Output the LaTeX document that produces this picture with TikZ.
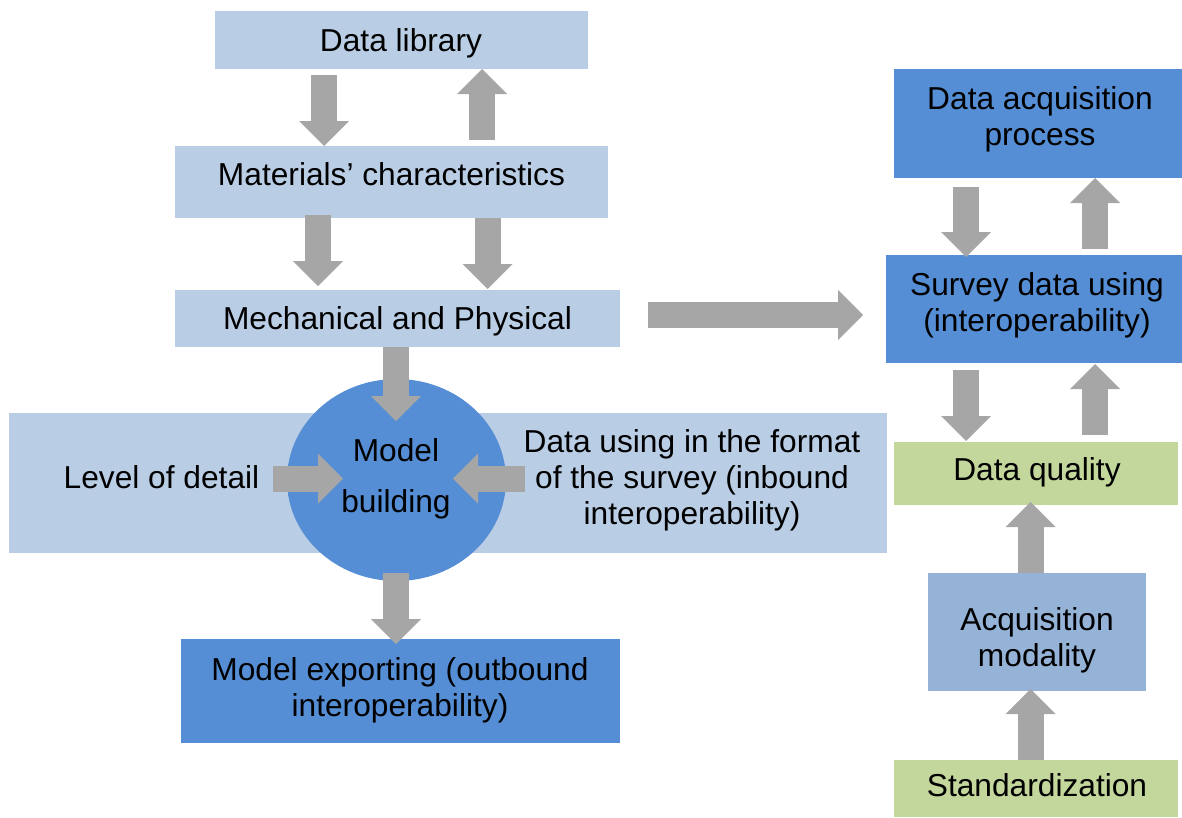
\documentclass[tikz,border=0pt]{standalone}
\usepackage{fontspec}
\setmainfont{Liberation Sans}
\usetikzlibrary{arrows.meta,calc,shapes.geometric}
\definecolor{paleblue}{HTML}{B9CDE5}
\definecolor{strongblue}{HTML}{558ED5}
\definecolor{midblue}{HTML}{95B3D7}
\definecolor{palegreen}{HTML}{C3D69B}
\definecolor{arrowgray}{HTML}{A6A6A6}
\begin{document}
\begin{tikzpicture}[x=1pt,y=-1pt,
  box/.style={rectangle, draw=none, inner sep=0pt, outer sep=0pt},
  txt/.style={inner sep=0pt, outer sep=0pt, align=center, font=\fontsize{31.7}{36}\selectfont},
  barrow/.style={draw=arrowgray, line width=26pt,
    -{Triangle[width=50pt,length=25pt,line width=0pt]}}]
\useasboundingbox (0,0) rectangle (1182,817);

% background band and the central disc
\node[box, fill=paleblue, minimum width=878pt, minimum height=140pt] (band) at (448,483) {};
\node[ellipse, draw=none, fill=strongblue, inner sep=0pt, minimum width=219pt, minimum height=202pt] (circ) at (396.5,480) {};

% left column boxes
\node[box, fill=paleblue, minimum width=373pt, minimum height=58pt] (lib) at (401.5,40) {};
\node[box, fill=paleblue, minimum width=433pt, minimum height=72pt] (mat) at (391.5,182) {};
\node[box, fill=paleblue, minimum width=445pt, minimum height=57pt] (mech) at (397.5,318.5) {};
\node[box, fill=strongblue, minimum width=439pt, minimum height=104pt] (exp) at (400.5,691) {};

% right column boxes
\node[box, fill=strongblue, minimum width=288pt, minimum height=109pt] (dap) at (1038,123.5) {};
\node[box, fill=strongblue, minimum width=296pt, minimum height=108pt] (sur) at (1034,309) {};
\node[box, fill=palegreen, minimum width=284pt, minimum height=63pt] (dq) at (1036,473.5) {};
\node[box, fill=midblue, minimum width=218pt, minimum height=118pt] (am) at (1037,632) {};
\node[box, fill=palegreen, minimum width=284pt, minimum height=57pt] (std) at (1036,788.5) {};

% labels
\node[txt] (lib-t) at (401,43.4) {Data library};
\node[txt] (mat-t) at (391.5,174) {Materials’ characteristics};
\node[txt] (mech-t) at (397.5,321) {Mechanical and Physical};
\node[txt] (lod-t) at (161.5,477) {Level of detail};
\node[txt, font=\fontsize{31.7}{51}\selectfont] (circ-t) at (396,479) {Model\\building};
\node[txt] (dus-t) at (692,480) {Data using in the format\\of the survey (inbound\\interoperability)};
\node[txt] (exp-t) at (400,690) {Model exporting (outbound\\interoperability)};
\node[txt] (dap-t) at (1040,119) {Data acquisition\\process};
\node[txt] (sur-t) at (1037,305) {Survey data using\\(interoperability)};
\node[txt] (dq-t) at (1037,472) {Data quality};
\node[txt] (am-t) at (1037,640) {Acquisition\\modality};
\node[txt] (std-t) at (1037,785) {Standardization};

% block arrows, left column
\draw[barrow] ($(lib.south)+(-77.5,6)$) -- ($(mat.north)+(-67.5,0)$);
\draw[barrow] ($(mat.north)+(90.5,-6)$) -- ($(lib.south)+(80.5,0)$);
\draw[barrow] ($(mat.south)+(-73.5,-3)$) -- ($(mech.north)+(-79.5,-4)$);
\draw[barrow] ($(mat.south)+(96,0)$) -- ($(mech.north)+(90,-1)$);
\draw[barrow] ($(mech.south)+(-1.5,0)$) -- ($(circ.center)+(-0.5,-59)$);
\draw[barrow] ($(circ.south)+(-0.5,-8)$) -- ($(exp.north)+(-4.5,5)$);
\draw[barrow] ($(lod-t.east)+(14,1.5)$) -- ($(circ.center)+(-53.5,-1.5)$);
\draw[barrow] ($(dus-t.west)+(1.5,-1.5)$) -- ($(circ.center)+(56.5,-1.5)$);

% link across to the survey step
\draw[barrow] ($(mech.east)+(28,-3.5)$) -- ($(sur.west)+(-23,6)$);

% block arrows, right column
\draw[barrow] ($(dap.south)+(-72,9)$) -- ($(sur.north)+(-68,2)$);
\draw[barrow] ($(sur.north)+(61,-6)$) -- ($(dap.south)+(57,0)$);
\draw[barrow] ($(sur.south)+(-68,7)$) -- ($(dq.north)+(-70,-1)$);
\draw[barrow] ($(dq.north)+(59,-7)$) -- ($(sur.south)+(61,1)$);
\draw[barrow] ($(am.north)+(-6.5,0)$) -- ($(dq.south)+(-5.5,-3)$);
\draw[barrow] ($(std.north)+(-5.5,0)$) -- ($(am.south)+(-6.5,-2)$);
\end{tikzpicture}
\end{document}
